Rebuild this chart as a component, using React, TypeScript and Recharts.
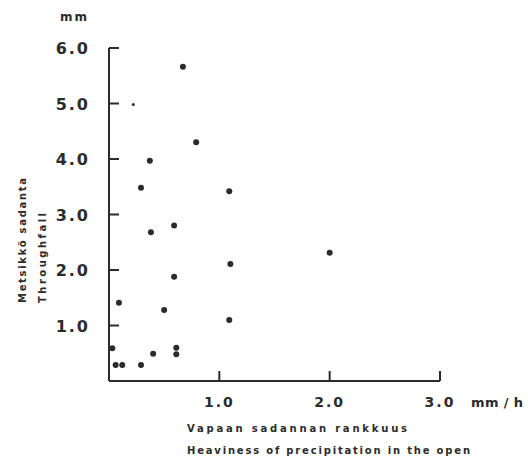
import { Scatter, ScatterChart, XAxis, YAxis } from 'recharts'

// Metsikkö sadanta vs. vapaan sadannan rankkuus (luettu kuvasta)
const rateX = [0.67, 0.79, 0.37, 0.29, 1.09, 0.59, 0.38, 2.0, 1.1, 0.59, 0.09, 0.5, 1.09, 0.03, 0.61, 0.61, 0.4, 0.06, 0.12, 0.29]
const throughY = [5.66, 4.3, 3.97, 3.48, 3.42, 2.8, 2.68, 2.31, 2.11, 1.88, 1.41, 1.28, 1.1, 0.59, 0.6, 0.48, 0.49, 0.29, 0.29, 0.29]
// yksi heikosti painettu piste
const faintX = [0.22]
const faintY = [4.98]

const xTicks = [1, 2, 3]
const yTicks = [1, 2, 3, 4, 5, 6]

const INK = '#2b2b2b'
const FONT = '"DejaVu Sans", sans-serif'

const points = rateX.map((x, i) => ({ x, y: throughY[i] }))
const faint = faintX.map((x, i) => ({ x, y: faintY[i] }))

function Dot({ cx, cy }: any) {
  return <circle cx={cx} cy={cy} r={3} fill={INK} />
}
function SmallDot({ cx, cy }: any) {
  return <circle cx={cx} cy={cy} r={1.5} fill={INK} />
}

// tikit osoittavat sisäänpäin, joten piirretään ne itse (tickSize 0 -> x,y = akselin kohta)
function XTick({ x, y, payload }: any) {
  const v = payload.value as number
  return (
    <g>
      <line x1={x} y1={y} x2={x} y2={y - 10} stroke={INK} strokeWidth={2} />
      <text x={x} y={y + 26} textAnchor="middle" fill={INK} fontSize={14} fontWeight={600} fontFamily={FONT} letterSpacing={2}>
        {v.toFixed(1)}
      </text>
      {v === 3 && (
        <text x={x + 31} y={y + 26} fill={INK} fontSize={13} fontWeight={600} fontFamily={FONT}
          textLength={52} lengthAdjust="spacing">
          mm / h
        </text>
      )}
    </g>
  )
}

function YTick({ x, y, payload }: any) {
  const v = payload.value as number
  return (
    <g>
      <line x1={x} y1={y} x2={x + 10} y2={y} stroke={INK} strokeWidth={2} />
      <text x={x - 19} y={y + 6} textAnchor="end" fill={INK} fontSize={16} fontWeight={600} fontFamily={FONT} letterSpacing={2}>
        {v.toFixed(1)}
      </text>
    </g>
  )
}

export default function App() {
  return (
    <div style={{ position: 'absolute', left: 0, top: 0, width: 528, height: 457, background: '#fff' }}>
      <ScatterChart width={528} height={457} margin={{ top: 48, right: 88, bottom: 0, left: 49 }}>
        <XAxis type="number" dataKey="x" domain={[0, 3]} ticks={xTicks} height={76}
          stroke={INK} strokeWidth={2} tickLine={false} tickSize={0} tickMargin={0} tick={<XTick />} />
        <YAxis type="number" dataKey="y" domain={[0, 6]} ticks={yTicks} width={60}
          stroke={INK} strokeWidth={2} tickLine={false} tickSize={0} tickMargin={0} tick={<YTick />} />
        <Scatter data={points} shape={<Dot />} isAnimationActive={false} />
        <Scatter data={faint} shape={<SmallDot />} isAnimationActive={false} />
      </ScatterChart>
      <svg width={528} height={457} style={{ position: 'absolute', left: 0, top: 0, pointerEvents: 'none' }}
        fontFamily={FONT} fontWeight="bold" fill={INK}>
        <text x={60} y={21} fontSize={12} letterSpacing={2}>mm</text>
        <text transform="translate(22,303) rotate(-90)" fontSize={10} dominantBaseline="central"
          textLength={125} lengthAdjust="spacing">Metsikkö sadanta</text>
        <text transform="translate(42,303) rotate(-90)" fontSize={10} dominantBaseline="central"
          textLength={90} lengthAdjust="spacing">Throughfall</text>
        <text x={187} y={432} fontSize={10} textLength={220} lengthAdjust="spacing">Vapaan sadannan rankkuus</text>
        <text x={187} y={454} fontSize={10} textLength={283} lengthAdjust="spacing">Heaviness of precipitation in the open</text>
      </svg>
    </div>
  )
}
